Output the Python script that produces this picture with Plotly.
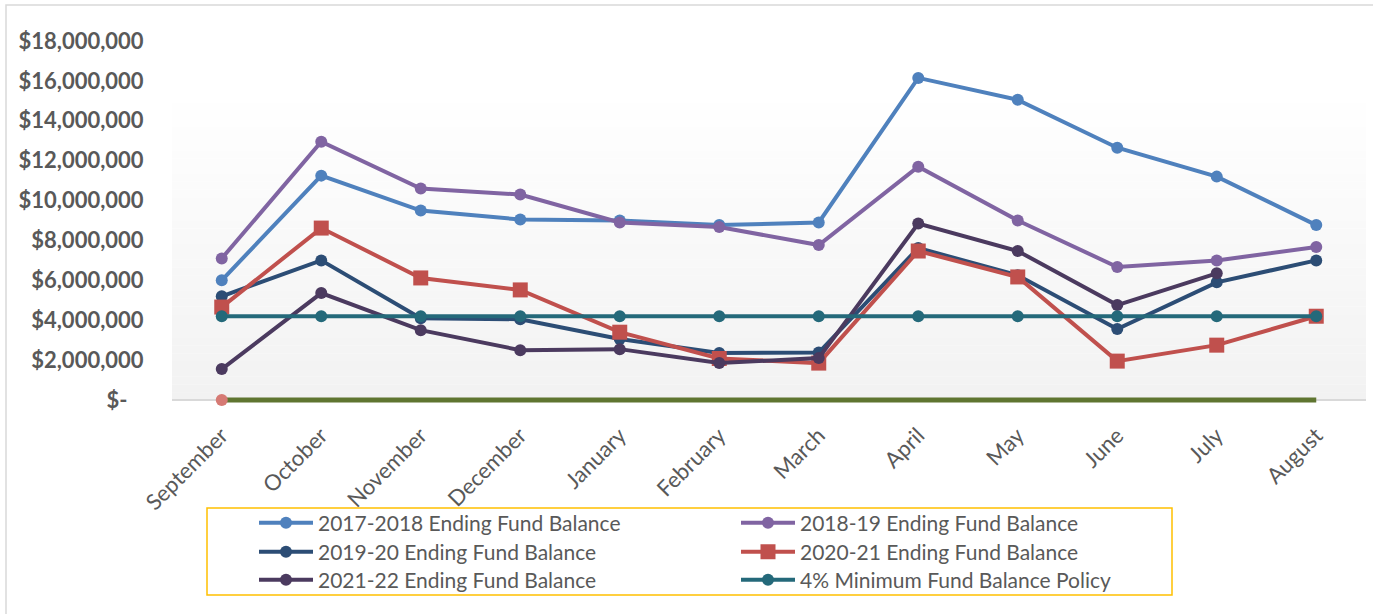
import plotly.graph_objects as go

months = ["September", "October", "November", "December", "January", "February",
          "March", "April", "May", "June", "July", "August"]

fy2017_18 = [6.0e6, 11.25e6, 9.5e6, 9.05e6, 9.0e6, 8.77e6, 8.9e6, 16.15e6, 15.05e6, 12.65e6, 11.2e6, 8.77e6]
fy2018_19 = [7.1e6, 12.95e6, 10.6e6, 10.3e6, 8.9e6, 8.67e6, 7.77e6, 11.7e6, 9.0e6, 6.67e6, 7.0e6, 7.67e6]
fy2019_20 = [5.2e6, 7.0e6, 4.1e6, 4.05e6, 3.06e6, 2.36e6, 2.38e6, 7.62e6, 6.25e6, 3.56e6, 5.9e6, 7.0e6]
fy2020_21 = [4.66e6, 8.62e6, 6.12e6, 5.52e6, 3.4e6, 2.08e6, 1.85e6, 7.47e6, 6.17e6, 1.95e6, 2.75e6, 4.2e6]
fy2021_22 = [1.55e6, 5.36e6, 3.5e6, 2.5e6, 2.55e6, 1.85e6, 2.1e6, 8.85e6, 7.47e6, 4.76e6, 6.35e6, None]
min_policy = [4.2e6] * 12
zero_line = [0] * 12
zero_point = [0] + [None] * 11

y_tickvals = [0, 2e6, 4e6, 6e6, 8e6, 10e6, 12e6, 14e6, 16e6, 18e6]
y_ticktext = ["$-\u00a0\u00a0\u00a0", "$2,000,000", "$4,000,000", "$6,000,000", "$8,000,000",
              "$10,000,000", "$12,000,000", "$14,000,000", "$16,000,000", "$18,000,000"]

FONT = "Lato, Carlito, Calibri, sans-serif"
W, H = 1373, 614
L, R, T, B = 172, 7, 41, 210
PW, PH = W - L - R, H - T - B
Y_TOP = 18e6
per_px = Y_TOP / (400 - 41)
Y_MIN = -(H - B - 400) * per_px


def px_x(p):
    return (p - L) / PW


def px_y(p):
    return (H - B - p) / PH


fig = go.Figure()

series = [
    ("2017-2018 Ending Fund Balance", fy2017_18, "#4f81bd", "circle", 12, "legend"),
    ("2018-19 Ending Fund Balance", fy2018_19, "#8064a2", "circle", 12, "legend"),
    ("2019-20 Ending Fund Balance", fy2019_20, "#2c4d75", "circle", 12, "legend2"),
    ("2020-21 Ending Fund Balance", fy2020_21, "#c0504d", "square", 15, "legend2"),
    ("2021-22 Ending Fund Balance", fy2021_22, "#4b3a5f", "circle", 12, "legend3"),
    ("4% Minimum Fund Balance Policy", min_policy, "#24697a", "circle", 12, "legend3"),
]
for name, vals, col, sym, sz, lg in series:
    fig.add_trace(go.Scatter(
        x=months, y=vals, name=name, mode="lines+markers", legend=lg,
        line=dict(color=col, width=4),
        marker=dict(color=col, symbol=sym, size=sz),
    ))

fig.add_trace(go.Scatter(x=months, y=zero_line, mode="lines", showlegend=False,
                         line=dict(color="#5f7530", width=5)))
fig.add_trace(go.Scatter(x=months, y=zero_point, mode="markers", showlegend=False,
                         cliponaxis=False, marker=dict(color="#d67a74", size=12)))

shapes = []
# gradient plot-area background
top_px, bot_px = 88, 400
n = 40
for i in range(n):
    y0p = top_px + (bot_px - top_px) * i / n
    y1p = top_px + (bot_px - top_px) * (i + 1) / n
    t = (i + 0.5) / n
    v = round(255 - (255 - 242) * t)
    shapes.append(dict(type="rect", xref="paper", yref="paper", layer="below",
                       x0=px_x(172), x1=px_x(1366), y0=px_y(y1p) - 0.0005, y1=px_y(y0p),
                       fillcolor=f"rgb({v},{v},{v})", line=dict(width=0)))
# legend border
shapes.append(dict(type="rect", xref="paper", yref="paper",
                   x0=px_x(207), x1=px_x(1172), y0=px_y(595), y1=px_y(508),
                   line=dict(color="#ffc000", width=1.5)))
# chart outer border
shapes.append(dict(type="rect", xref="paper", yref="paper",
                   x0=px_x(6), x1=px_x(1385), y0=px_y(625), y1=px_y(5),
                   line=dict(color="#d9d9d9", width=1.5)))

leg_common = dict(
    orientation="h", xanchor="left", yanchor="middle",
    font=dict(size=21, color="#595959", family=FONT),
    entrywidth=413, entrywidthmode="pixels", itemwidth=54,
    bgcolor="rgba(0,0,0,0)", borderwidth=0, traceorder="normal",
)

fig.update_layout(
    width=W, height=H,
    margin=dict(l=L, r=R, t=T, b=B, autoexpand=False),
    paper_bgcolor="white", plot_bgcolor="rgba(0,0,0,0)",
    font=dict(family=FONT, color="#595959"),
    shapes=shapes,
    showlegend=True,
    legend=dict(x=px_x(254), y=px_y(523), **leg_common),
    legend2=dict(x=px_x(254), y=px_y(552), **leg_common),
    legend3=dict(x=px_x(254), y=px_y(580), **leg_common),
    xaxis=dict(
        range=[-0.5, 11.5], showgrid=False, zeroline=False, showline=False,
        tickangle=-45, tickfont=dict(size=22, color="#595959", family=FONT),
        ticks="outside", ticklen=9, tickcolor="rgba(0,0,0,0)",
    ),
    yaxis=dict(
        range=[Y_MIN, Y_TOP], showgrid=False, showline=False,
        zeroline=True, zerolinecolor="#d9d9d9", zerolinewidth=2,
        tickvals=y_tickvals, ticktext=y_ticktext,
        tickfont=dict(size=22, color="#595959", family=FONT, weight="bold"),
        ticks="outside", ticklen=23, tickcolor="rgba(0,0,0,0)",
    ),
)

fig.write_html("out.html", config={"displayModeBar": False},
               post_script="document.body.style.margin='0px';")
